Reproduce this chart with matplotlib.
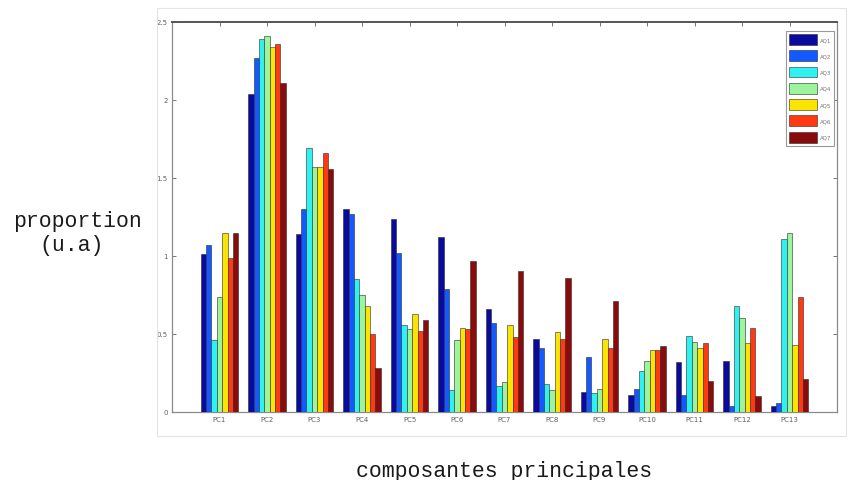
import matplotlib
matplotlib.use("Agg")
import matplotlib.pyplot as plt
import numpy as np

# proportion per principal component, one list per series AQ1..AQ7
components = [f"PC{i}" for i in range(1, 14)]
series = ["AQ1", "AQ2", "AQ3", "AQ4", "AQ5", "AQ6", "AQ7"]
aq1 = [1.01, 2.04, 1.14, 1.30, 1.24, 1.12, 0.66, 0.47, 0.13, 0.11, 0.32, 0.33, 0.04]
aq2 = [1.07, 2.27, 1.30, 1.27, 1.02, 0.79, 0.57, 0.41, 0.35, 0.15, 0.11, 0.04, 0.055]
aq3 = [0.46, 2.39, 1.69, 0.85, 0.56, 0.14, 0.165, 0.18, 0.12, 0.26, 0.49, 0.68, 1.11]
aq4 = [0.74, 2.41, 1.57, 0.75, 0.53, 0.46, 0.19, 0.14, 0.15, 0.33, 0.45, 0.60, 1.15]
aq5 = [1.15, 2.34, 1.57, 0.68, 0.63, 0.54, 0.555, 0.51, 0.47, 0.40, 0.41, 0.44, 0.43]
aq6 = [0.99, 2.36, 1.66, 0.50, 0.52, 0.53, 0.48, 0.47, 0.41, 0.40, 0.44, 0.54, 0.735]
aq7 = [1.15, 2.11, 1.56, 0.28, 0.59, 0.97, 0.905, 0.86, 0.71, 0.425, 0.20, 0.10, 0.21]
values = [aq1, aq2, aq3, aq4, aq5, aq6, aq7]

colors = ["#0a0a9c", "#1458ff", "#2ef2f2", "#9cf59a", "#fbe400", "#ff3a12", "#8a0b0b"]

fig = plt.figure(figsize=(8.49, 4.81), dpi=100)
# faint outer frame around the plot area
fig.patches.append(plt.Rectangle((157 / 849, 1 - 437 / 481), (846 - 157) / 849, (437 - 9) / 481,
                                 transform=fig.transFigure, fill=False, ec="#e4e4e4", lw=0.8))
ax = fig.add_axes([172 / 849, 1 - 413 / 481, (837 - 172) / 849, (413 - 23) / 481])

x = np.arange(1, len(components) + 1)
group_w = 0.79
w = group_w / len(series)
for k, (name, vals, c) in enumerate(zip(series, values, colors)):
    offs = -group_w / 2 + w * (k + 0.5)
    ax.bar(x + offs, vals, w, color=c, edgecolor="#2a2a2a", linewidth=0.4, label=name, zorder=3)

ax.set_xlim(0, 14)
ax.set_ylim(0, 2.5)
ax.set_xticks(x)
ax.set_xticklabels(components)
ax.set_yticks([0, 0.5, 1, 1.5, 2, 2.5])
ax.set_yticklabels(["0", "0.5", "1", "1.5", "2", "2.5"])
ax.tick_params(axis="both", labelsize=5, colors="#606060", length=3, width=0.6,
               top=True, right=True, direction="in", pad=3)
for s in ax.spines.values():
    s.set_color("#8a8a8a")
    s.set_linewidth(0.9)
ax.spines["top"].set_color("#555555")
ax.spines["top"].set_linewidth(1.4)

leg = ax.legend(loc="upper right", fontsize=4, handlelength=5.0, handleheight=2.6,
                labelspacing=1.0, borderpad=0.6, handletextpad=0.5, fancybox=False,
                framealpha=1, edgecolor="#999999", bbox_to_anchor=(1.0, 0.985))
leg.get_frame().set_linewidth(0.8)
for t in leg.get_texts():
    t.set_color("#707070")

mono = "Liberation Mono"
fig.text(77 / 849, 1 - 222 / 481, "proportion", family=mono, fontsize=15.5,
         ha="center", va="center", color="#1a1a1a")
fig.text(72 / 849, 1 - 246 / 481, "(u.a)", family=mono, fontsize=15.5,
         ha="center", va="center", color="#1a1a1a")
fig.text(504 / 849, 1 - 472 / 481, "composantes principales", family=mono, fontsize=15.5,
         ha="center", va="center", color="#1a1a1a")

fig.savefig("out.png", dpi=100)
